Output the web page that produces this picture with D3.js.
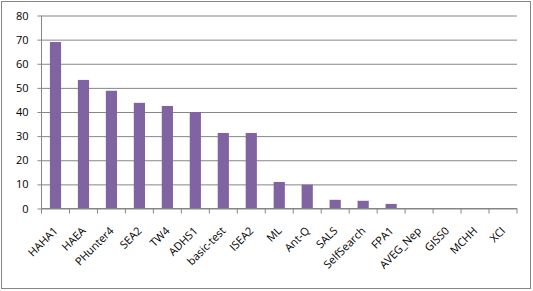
<!DOCTYPE html>
<html lang="en">
<head>
    <meta charset="UTF-8">
    <title>Bar chart</title>
    <script src="https://d3js.org/d3.v7.min.js"></script>
    <style>
        body { margin: 0; background: #fff; }
        svg text { font-family: "Open Sans", sans-serif; font-size: 11px; fill: #000; }
    </style>
</head>
<body>
<script>
    // data
    const categories = ["HAHA1", "HAEA", "PHunter4", "SEA2", "TW4", "ADHS1", "basic-test", "ISEA2",
        "ML", "Ant-Q", "SALS", "SelfSearch", "FPA1", "AVEG_Nep", "GISS0", "MCHH", "XCI"];
    const values = [69, 53.3, 48.8, 43.8, 42.5, 40, 31.3, 31.3, 11, 9.9, 3.6, 3.2, 1.9, 0, 0, 0, 0];
    const yTicks = [0, 10, 20, 30, 40, 50, 60, 70, 80];

    const width = 533, height = 291;
    const margin = { top: 15.5, left: 41.5, right: 16, bottom: 82.5 };
    const innerWidth = width - margin.left - margin.right;
    const innerHeight = height - margin.top - margin.bottom;
    const grey = "#868686";

    const svg = d3.select("body").append("svg")
        .attr("width", width)
        .attr("height", height);

    // chart border
    svg.append("rect")
        .attr("x", 1.5).attr("y", 1.5)
        .attr("width", 529).attr("height", 287)
        .attr("fill", "none")
        .attr("stroke", grey);

    const g = svg.append("g")
        .attr("transform", `translate(${margin.left},${margin.top})`);

    const x = d3.scaleBand().domain(categories).range([0, innerWidth]).padding(0);
    const y = d3.scaleLinear().domain([0, 80]).range([innerHeight, 0]);

    // gridlines
    g.append("g")
        .call(d3.axisLeft(y).tickValues(yTicks).tickSize(-innerWidth).tickFormat(""))
        .call(a => a.select(".domain").remove())
        .selectAll("line").attr("stroke", grey);

    // y axis
    g.append("g")
        .call(d3.axisLeft(y).tickValues(yTicks).tickSize(4).tickPadding(9))
        .call(a => a.select(".domain").attr("stroke", grey).attr("d", `M0,${innerHeight}V0`))
        .call(a => a.selectAll("line").attr("stroke", grey))
        .call(a => a.selectAll("text").attr("font-family", null).attr("font-size", null));

    // bars
    const barW = x.bandwidth() / 2.5;
    g.selectAll(".bar")
        .data(values)
        .enter().append("rect")
        .attr("class", "bar")
        .attr("x", (d, i) => x(categories[i]) + (x.bandwidth() - barW) / 2)
        .attr("y", d => y(d))
        .attr("width", barW)
        .attr("height", d => innerHeight - y(d))
        .attr("fill", "#8064A2");

    // x axis line with ticks at category boundaries
    const xAxis = g.append("g").attr("transform", `translate(0,${innerHeight})`);
    xAxis.append("line")
        .attr("x1", 0).attr("x2", innerWidth)
        .attr("stroke", grey);
    xAxis.selectAll(".tick")
        .data(d3.range(categories.length + 1))
        .enter().append("line")
        .attr("x1", i => i * x.step())
        .attr("x2", i => i * x.step())
        .attr("y1", 0).attr("y2", 5)
        .attr("stroke", grey);

    // rotated category labels
    xAxis.selectAll(".label")
        .data(categories)
        .enter().append("text")
        .attr("text-anchor", "end")
        .attr("transform", d => `translate(${x(d) + x.bandwidth() / 2 + 3},23) rotate(-45)`)
        .text(d => d);
</script>
</body>
</html>
